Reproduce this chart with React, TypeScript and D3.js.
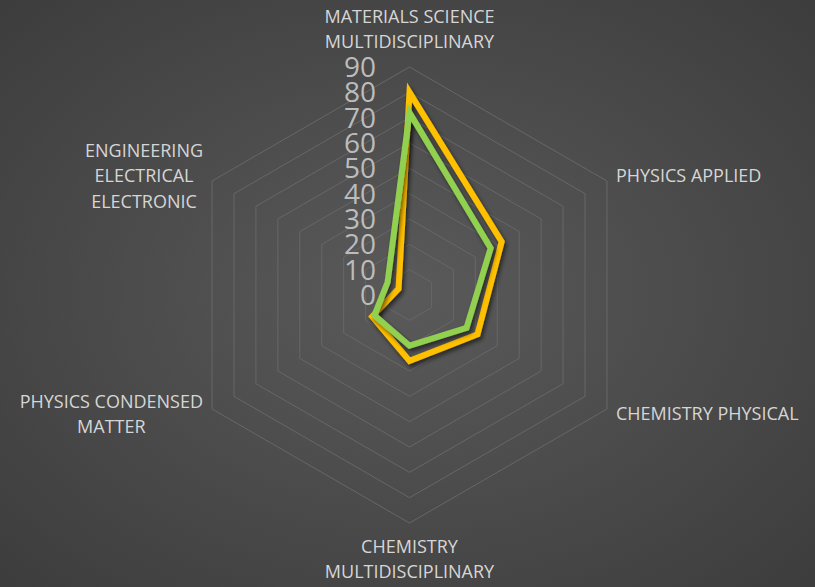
import * as d3 from "d3";
import { useEffect, useRef } from "react";

const categories = [
  "MATERIALS SCIENCE\nMULTIDISCIPLINARY",
  "PHYSICS APPLIED",
  "CHEMISTRY PHYSICAL",
  "CHEMISTRY\nMULTIDISCIPLINARY",
  "PHYSICS CONDENSED\nMATTER",
  "ENGINEERING\nELECTRICAL\nELECTRONIC",
];
const yellowValues = [80, 42, 31, 26, 17, 5];
const greenValues = [72, 37, 26, 20, 16, 10];
const ticks = [0, 10, 20, 30, 40, 50, 60, 70, 80, 90];

const W = 815;
const H = 587;

export default function App() {
  const svgRef = useRef<SVGSVGElement | null>(null);

  useEffect(() => {
    if (!svgRef.current) return;
    const svg = d3.select(svgRef.current);
    svg.selectAll("*").remove();

    const cx = 409.5;
    const cy = 295;
    const R = 228;
    const n = categories.length;

    const r = d3.scaleLinear().domain([0, 90]).range([0, R]);
    const angle = (i: number) => (i * 2 * Math.PI) / n;

    const defs = svg.append("defs");
    const grad = defs
      .append("radialGradient")
      .attr("id", "bg")
      .attr("cx", "50%")
      .attr("cy", "50%")
      .attr("r", "72%");
    grad.append("stop").attr("offset", "0%").attr("stop-color", "#5a5a5a");
    grad.append("stop").attr("offset", "100%").attr("stop-color", "#3c3c3c");

    const shadow = defs
      .append("filter")
      .attr("id", "shadow")
      .attr("x", "-20%")
      .attr("y", "-20%")
      .attr("width", "140%")
      .attr("height", "140%");
    shadow
      .append("feDropShadow")
      .attr("dx", 2)
      .attr("dy", 3)
      .attr("stdDeviation", 2)
      .attr("flood-color", "#000")
      .attr("flood-opacity", 0.55);

    svg.append("rect").attr("width", W).attr("height", H).attr("fill", "url(#bg)");

    const g = svg.append("g").attr("transform", `translate(${cx},${cy})`);

    // grid rings
    const radial = d3
      .lineRadial<number>()
      .angle((_, i) => angle(i))
      .curve(d3.curveLinearClosed);

    g.selectAll("path.ring")
      .data(ticks.filter((t) => t > 0))
      .join("path")
      .attr("class", "ring")
      .attr("d", (t) => radial.radius(r(t))(categories.map(() => t)))
      .attr("fill", "none")
      .attr("stroke", "#676767")
      .attr("stroke-width", 1);

    // series
    const seriesLine = d3
      .lineRadial<number>()
      .angle((_, i) => angle(i))
      .radius((d) => r(d))
      .curve(d3.curveLinearClosed);

    [
      { values: yellowValues, color: "#ffc000" },
      { values: greenValues, color: "#92d050" },
    ].forEach((s) => {
      g.append("path")
        .attr("d", seriesLine(s.values))
        .attr("fill", "none")
        .attr("stroke", s.color)
        .attr("stroke-width", 6)
        .attr("stroke-linejoin", "miter")
        .attr("stroke-miterlimit", 10)
        .attr("filter", "url(#shadow)");
    });

    // tick labels
    g.selectAll("text.tick")
      .data(ticks)
      .join("text")
      .attr("class", "tick")
      .attr("x", -33.5)
      .attr("y", (t) => -r(t))
      .attr("dy", "0.36em")
      .attr("text-anchor", "end")
      .attr("font-family", "'Open Sans', sans-serif")
      .attr("font-size", 28)
      .attr("fill", "#bcbcbc")
      .text((t) => t);

    // category labels
    const fontSize = 18;
    const capH = 12.8;
    const lh = 25.5;
    categories.forEach((label, i) => {
      const lines = label.split("\n");
      const a = angle(i);
      const vx = Math.sin(a) * R;
      const vy = -Math.cos(a) * R;
      const t = g
        .append("text")
        .attr("font-family", "'Open Sans', sans-serif")
        .attr("font-size", fontSize)
        .attr("fill", "#d6d6d6")
        .attr("text-anchor", "middle");
      const spans = lines.map((l) => t.append("tspan").text(l));
      const widths = spans.map((s) => (s.node() as SVGTSpanElement).getComputedTextLength());
      const bw = d3.max(widths) ?? 0;

      let x = vx;
      let b0: number;
      const s = Math.sin(a);
      if (Math.abs(s) < 0.01) {
        b0 = Math.cos(a) > 0 ? vy - 19 - (lines.length - 1) * lh : vy + 17 + capH;
      } else {
        x = s > 0 ? vx + 9 + bw / 2 : vx - 9 - bw / 2;
        const center = vy - Math.cos(a) * 10;
        b0 = center - ((lines.length - 1) * lh - capH) / 2;
      }
      spans.forEach((sp, j) => sp.attr("x", x).attr("y", b0 + j * lh));
    });
  }, []);

  return (
    <svg
      ref={svgRef}
      width={W}
      height={H}
      style={{ position: "absolute", left: 0, top: 0, display: "block" }}
    />
  );
}
